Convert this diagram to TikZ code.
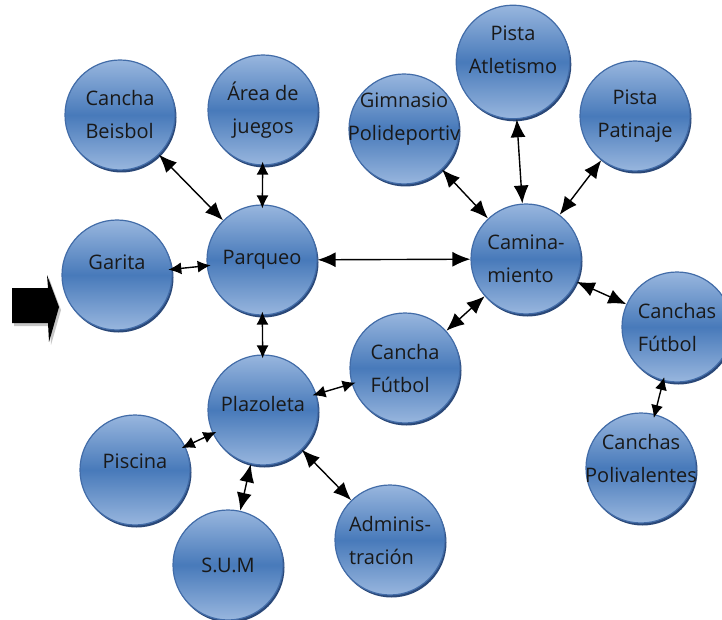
\documentclass[tikz,border=0pt]{standalone}
\usepackage{fontspec}
\setmainfont{Open Sans}
\usetikzlibrary{arrows.meta,shadows}
\definecolor{ballTop}{RGB}{152,182,222}
\definecolor{ballMid}{RGB}{72,122,186}
\definecolor{ballRim}{RGB}{66,108,168}
\definecolor{ballShade}{RGB}{42,72,120}
\tikzset{
  ball/.style={circle, minimum size=110pt, inner sep=0pt, draw=ballRim, line width=1.2pt,
    top color=ballTop, bottom color=ballTop, middle color=ballMid,
    drop shadow={shadow xshift=1.5pt, shadow yshift=-2.5pt, fill=ballShade, opacity=1},
    font=\fontsize{20}{33}\selectfont, align=center, text=black!90},
  wide/.style={inner sep=-20pt},
  link/.style={{Latex[length=18pt,width=15pt]}-{Latex[length=18pt,width=15pt]}, line width=1.4pt},
  shortlink/.style={{Latex[length=13pt,width=12pt]}-{Latex[length=13pt,width=12pt]}, line width=1.4pt,
    shorten <=-4pt, shorten >=-4pt},
}
\begin{document}
\begin{tikzpicture}[x=1pt,y=-1pt]
  \useasboundingbox (0,0) rectangle (722,620);
  % entrance arrow
  \fill[gray!45] (14,291) -- (50,291) -- (49,278) -- (61,310) -- (51,345) -- (50,326) -- (14,326) -- cycle;
  \fill (12,288) -- (48,288) -- (47,275) -- (59,307) -- (49,342) -- (48,323) -- (12,323) -- cycle;
  % circles
  \node[ball, align=left] (beisbol) at (120,115) {Cancha\\Beisbol};
  \node[ball] (juegos) at (263,110) {Área de\\juegos};
  \node[ball, wide, text depth=24pt] (gimnasio) at (404,129) {Gimnasio\\Polideportiv};
  \node[ball, text depth=24pt] (atletismo) at (513,62) {Pista\\Atletismo};
  \node[ball] (patinaje) at (635,116) {Pista\\Patinaje};
  \node[ball, text depth=26pt] (garita) at (117,275) {Garita};
  \node[ball] (parqueo) at (262,260) {Parqueo};
  \node[ball, align=left] (camino) at (526,259) {Camina-\\miento};
  \node[ball, align=left] (canchas) at (677,327) {Canchas\\Fútbol};
  \node[ball, wide, text depth=20pt] (poliv) at (641,468) {Canchas\\Polivalentes};
  \node[ball, text depth=12pt] (plazoleta) at (263,410) {Plazoleta};
  \node[ball, align=left] (futbol) at (405,368) {Cancha\\Fútbol};
  \node[ball, text depth=18pt] (piscina) at (135,470) {Piscina};
  \node[ball] (sum) at (228,565) {S.U.M};
  \node[ball, align=left] (admin) at (390,540) {Adminis-\\tración};
  % connectors
  \draw[link] (beisbol) -- (parqueo);
  \draw[shortlink] (juegos) -- (parqueo);
  \draw[shortlink] (garita) -- (parqueo);
  \draw[link] (parqueo) -- (camino);
  \draw[shortlink] (parqueo) -- (plazoleta);
  \draw[link] (gimnasio) -- (camino);
  \draw[link] (atletismo) -- (camino);
  \draw[link] (patinaje) -- (camino);
  \draw[link] (camino) -- (canchas);
  \draw[link] (camino) -- (futbol);
  \draw[shortlink] (canchas) -- (poliv);
  \draw[shortlink] (plazoleta) -- (futbol);
  \draw[shortlink] (plazoleta) -- (piscina);
  \draw[link] (plazoleta) -- (sum);
  \draw[link] (plazoleta) -- (admin);
\end{tikzpicture}
\end{document}
